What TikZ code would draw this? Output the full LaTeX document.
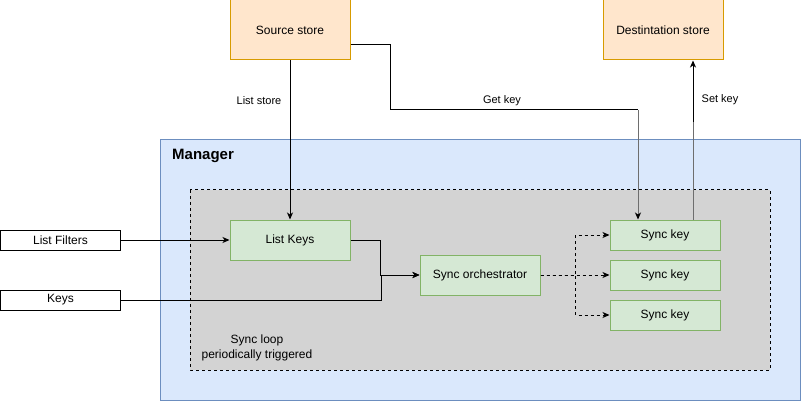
\documentclass[tikz,border=0pt]{standalone}
\usepackage{fontspec}
\setmainfont{Liberation Sans}
\usetikzlibrary{arrows.meta}
\definecolor{mgrfill}{HTML}{DAE8FC}
\definecolor{mgrline}{HTML}{6C8EBF}
\definecolor{loopfill}{HTML}{D3D3D3}
\definecolor{grnfill}{HTML}{D5E8D4}
\definecolor{grnline}{HTML}{82B366}
\definecolor{orgfill}{HTML}{FFE6CC}
\definecolor{orgline}{HTML}{D79B00}
\definecolor{edgegray}{HTML}{6E6E6E}
\tikzset{
  base/.style={draw, line width=1pt, inner sep=0pt, font=\fontsize{12}{14}\selectfont},
  store/.style={base, fill=orgfill, draw=orgline, minimum width=120pt, minimum height=60pt},
  proc/.style={base, fill=grnfill, draw=grnline, minimum width=120pt, minimum height=40pt},
  synck/.style={base, fill=grnfill, draw=grnline, minimum width=110pt, minimum height=30pt},
  inbox/.style={base, fill=white, draw=black, minimum width=120pt, minimum height=20pt},
  conn/.style={line width=1pt, -{Stealth[length=7pt,width=6pt,inset=2pt,color=black]}},
  plain/.style={line width=1pt},
  elabel/.style={font=\fontsize{11}{13}\selectfont, inner sep=1pt}
}
\begin{document}
\begin{tikzpicture}[x=1pt,y=-1pt]
\useasboundingbox (0,0) rectangle (801,401);
% containers
\path[fill=mgrfill, draw=mgrline, line width=1pt] (160,140) rectangle (800,400);
\node[font=\fontsize{15}{17}\selectfont\bfseries, anchor=west, inner sep=0pt] (mgr) at (172,156) {Manager};
\path[fill=loopfill, draw=black, line width=1pt, dash pattern=on 3pt off 3pt] (190,190) rectangle (770,370);
\node[font=\fontsize{12}{15}\selectfont, align=center, inner sep=0pt] (loop) at (257,347.5) {Sync loop\\periodically triggered};
% nodes
\node[store] (src) at (290,30) {Source store};
\node[store] (dst) at (663,30) {Destintation store};
\node[proc] (lk) at (290,240) {List Keys};
\node[proc] (orch) at (480,275) {Sync orchestrator};
\node[synck] (sk1) at (665,235) {Sync key};
\node[synck] (sk2) at (665,275) {Sync key};
\node[synck] (sk3) at (665,315) {Sync key};
\node[inbox] (lf) at (60.5,240) {List Filters};
\node[inbox] (keys) at (60.5,300) {Keys};
\coordinate (gk) at (638,110);
\coordinate (sk) at (693,122);
% connectors
\draw[conn] (src.south) -- (lk.north);
\node[elabel] (lsl) at (259,101) {List store};
\draw[plain] ([yshift=-15pt]src.east) -- ++(40,0) |- (gk);
\draw[conn, edgegray] (gk) -- (gk |- sk1.north);
\node[elabel] (gkl) at (502,101) {Get key};
\draw[plain, edgegray] (sk |- sk1.north) -- (sk);
\draw[conn] (sk) -- (sk |- dst.south);
\node[elabel] (skl) at (720,100) {Set key};
\draw[conn] (lf.east) -- (lk.west);
\draw[conn] (lk.east) -- ++(30,0) |- (orch.west);
\draw[conn] (keys.east) -- ++(260,0) |- (orch.west);
\draw[conn, dash pattern=on 3pt off 3pt] (orch.east) -- ++(35,0) |- (sk1.west);
\draw[conn, dash pattern=on 3pt off 3pt] (orch.east) -- (sk2.west);
\draw[conn, dash pattern=on 3pt off 3pt] (orch.east) -- ++(35,0) |- (sk3.west);
\end{tikzpicture}
\end{document}
